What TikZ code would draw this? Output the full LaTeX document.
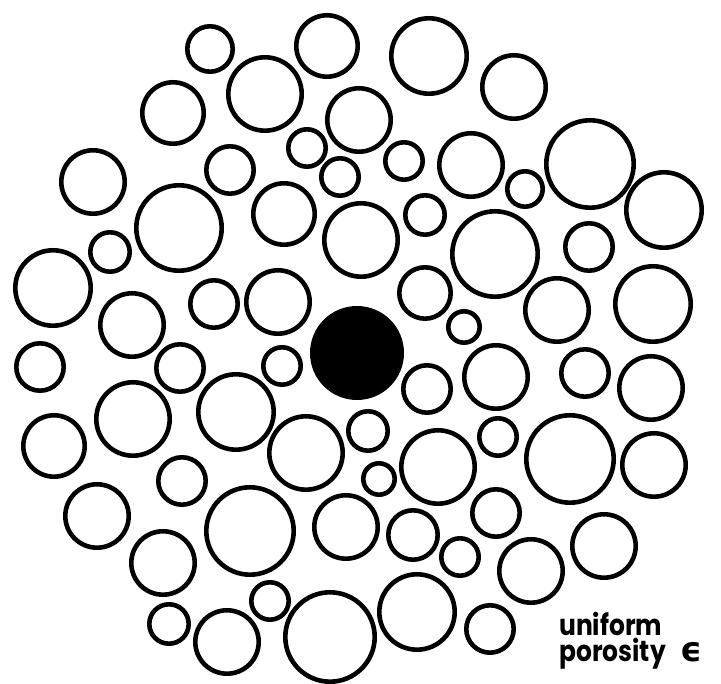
\documentclass[tikz,border=0pt]{standalone}
\usepackage{fontspec}
\setmainfont{Poppins}
\newfontfamily\greekf{DejaVu Sans}
\begin{document}
\begin{tikzpicture}[x=1pt,y=1pt,
  ring/.style={draw=black,line width=4.6pt,fill=none},
  core/.style={fill=black,draw=none},
  lbl/.style={font=\fontsize{26}{26}\selectfont\bfseries,inner sep=0pt,anchor=base west}]
\useasboundingbox (0,0) rectangle (721,684);
\foreach \cx/\cy/\r in {
 210/49/25, 327/46/33, 429/56/40, 514/87/34, 265/94/39, 173/113/33,
 359/120/34, 307/148/21, 404/161/21, 471/165/34, 590/164/46, 93/182/34,
 230/170/26, 340/177/21, 525/189/20, 179/228/45, 284/214/33, 361/240/39,
 425/215/22, 664/210/40, 495/254/45, 589/247/26, 110/252/22, 53/288/40,
 132/325/34, 214/304/26, 278/302/34, 425/293/28, 557/310/34, 653/304/40,
 464/327/18, 40/367/26, 180/368/26, 282/366/21, 427/389/26, 496/377/34,
 585/373/26, 651/388/34, 133/419/39, 236/412/40, 368/431/22, 306/453/39,
 438/467/39, 498/437/21, 570/459/46, 54/446/33, 654/465/34, 182/481/26,
 379/479/18, 97/516/34, 250/531/46, 346/527/34, 496/513/26, 413/535/27,
 460/557/21, 604/546/34, 163/563/34, 531/571/34, 270/601/21, 417/612/40,
 169/624/22, 227/642/34, 330/637/47, 490/629/26}
 {\draw[ring] (\cx,684-\cy) circle[radius=\r-2.3];}
\fill[core] (357,684-353) circle[radius=47];
\node[lbl] (line1) at (559,48) {\scalebox{0.96}[1.12]{uniform}};
\node[lbl] (line2) at (559,22) {\scalebox{0.96}[1.12]{porosity}\hspace{0.55em}{\greekf\bfseries\fontsize{34}{34}\selectfont ϵ}};
\end{tikzpicture}
\end{document}
